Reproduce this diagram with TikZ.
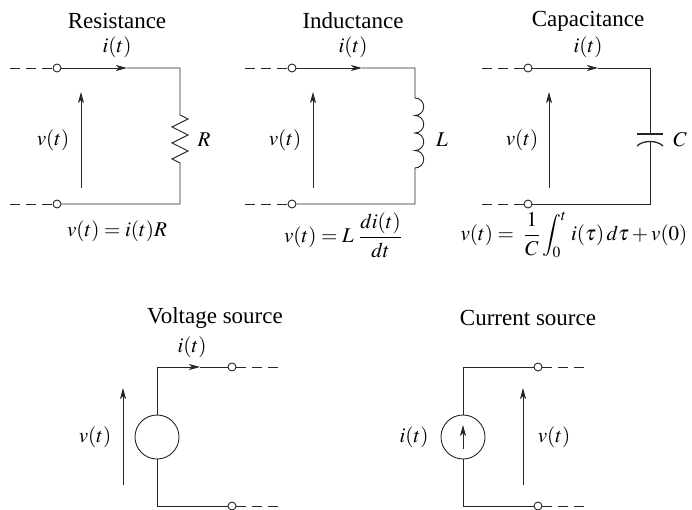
\documentclass[tikz,border=0pt]{standalone}
\usepackage{amsmath}
\usepackage{mathptmx}
\usepackage{fontspec}
\setmainfont{Liberation Serif}
\usetikzlibrary{arrows.meta}
\tikzset{
  wire/.style={line width=0.9pt,black!85},
  lead/.style={wire,dash pattern=on 10pt off 6pt},
  term/.style={circle,draw,wire,fill=white,inner sep=0pt,minimum size=8pt},
  vsrc/.style={circle,draw,wire,inner sep=0pt,minimum size=44pt},
  tip/.style={-{Stealth[length=11pt,width=6pt,inset=3pt]}},
  title/.style={font=\fontsize{23}{26}\selectfont}
}
\begin{document}
\begin{tikzpicture}[x=1pt,y=-1pt,font=\fontsize{21}{24}\selectfont]
  \useasboundingbox (0,0) rectangle (692,510);
  % resistance
  \node[title] at (117,21) {Resistance};
  \node (iR) at (117,47) {$i(t)$};
  \node[term] (rA) at (57,68) {};
  \node[term] (rB) at (57,204) {};
  \coordinate (rA0) at (10,68);
  \coordinate (rB0) at (10,204);
  \coordinate (rAr) at (127,68);
  \coordinate (rC) at (180,68);
  \coordinate (rD) at (180,204);
  \coordinate (rT) at (180,115);
  \coordinate (rU) at (180,163);
  \draw[lead] (rA0) -- (rA);
  \draw[lead] (rB0) -- (rB);
  \draw[wire,tip] (rA) -- (rAr);
  \draw[wire] (rAr) -- (rC) -- (rT) -- ++(8,4) -- ++(-16,8) -- ++(16,8) -- ++(-16,8)
    -- ++(16,8) -- ++(-16,8) -- (rU) -- (rD) -- (rB);
  \node (R) at (204,140) {$R$};
  \coordinate (rv0) at (81,188);
  \coordinate (rv1) at (81,92);
  \draw[wire,tip] (rv0) -- (rv1);
  \node (vR) at (53,140) {$v(t)$};
  \node (eqR) at (117,231) {$v(t) = i(t)R$};
  % inductance
  \node[title] at (353,21) {Inductance};
  \node (iL) at (353,47) {$i(t)$};
  \node[term] (lA) at (292,68) {};
  \node[term] (lB) at (292,204) {};
  \coordinate (lA0) at (245,68);
  \coordinate (lB0) at (245,204);
  \coordinate (lAr) at (362,68);
  \coordinate (lC) at (415,68);
  \coordinate (lD) at (415,204);
  \coordinate (lT) at (415,98);
  \coordinate (lU) at (415,168);
  \draw[lead] (lA0) -- (lA);
  \draw[lead] (lB0) -- (lB);
  \draw[wire,tip] (lA) -- (lAr);
  \draw[wire] (lAr) -- (lC) -- (lT)
    \foreach \k in {1,...,4} { arc[start angle=-90,end angle=90,radius=8.75] }
    -- (lU) -- (lD) -- (lB);
  \node (L) at (442,140) {$L$};
  \coordinate (lv0) at (313,188);
  \coordinate (lv1) at (313,92);
  \draw[wire,tip] (lv0) -- (lv1);
  \node (vL) at (285,140) {$v(t)$};
  \node (eqL) at (343,235) {$v(t) = L\ \dfrac{di(t)}{dt}$};
  % capacitance
  \node[title] at (588,21) {Capacitance};
  \node (iC) at (588,47) {$i(t)$};
  \node[term] (cA) at (528,68) {};
  \node[term] (cB) at (528,204) {};
  \coordinate (cA0) at (482,68);
  \coordinate (cB0) at (482,204);
  \coordinate (cAr) at (598,68);
  \coordinate (cC) at (650,68);
  \coordinate (cD) at (650,204);
  \coordinate (cT) at (650,134);
  \coordinate (cU) at (650,142);
  \draw[lead] (cA0) -- (cA);
  \draw[lead] (cB0) -- (cB);
  \draw[wire,tip] (cA) -- (cAr);
  \draw[wire] (cAr) -- (cC) -- (cT);
  \draw[wire] (cU) -- (cD) -- (cB);
  \draw[wire,line width=1.3pt] (637,134) -- (663,134);
  \draw[wire,line width=1.3pt] (637,146) .. controls (643,140) and (657,140) .. (663,146);
  \node (C) at (680,140) {$C$};
  \coordinate (cv0) at (549,188);
  \coordinate (cv1) at (549,92);
  \draw[wire,tip] (cv0) -- (cv1);
  \node (vC) at (522,140) {$v(t)$};
  \node (eqC) at (574,235) {$v(t) =\ \dfrac{1}{C}\displaystyle\int_0^t\, i(\tau)\,d\tau + v(0)$};
  % voltage source
  \node[title] at (215,318) {Voltage source};
  \node (iV) at (192,347) {$i(t)$};
  \node[vsrc] (V) at (157,437) {};
  \node[term] (vA) at (232,367) {};
  \node[term] (vB) at (232,506) {};
  \coordinate (vA0) at (280,367);
  \coordinate (vB0) at (280,506);
  \coordinate (vC1) at (157,367);
  \coordinate (vD1) at (157,506);
  \coordinate (vAr) at (200,367);
  \draw[wire,tip] (V) -- (vC1) -- (vAr);
  \draw[wire] (vAr) -- (vA);
  \draw[wire] (V) -- (vD1) -- (vB);
  \draw[lead] (vA) -- (vA0);
  \draw[lead] (vB) -- (vB0);
  \coordinate (vv0) at (123,485);
  \coordinate (vv1) at (123,388);
  \draw[wire,tip] (vv0) -- (vv1);
  \node (vV) at (95,437) {$v(t)$};
  % current source
  \node[title] at (528,318) {Current source};
  \node[vsrc] (I) at (463,437) {};
  \node[term] (iA) at (538,367) {};
  \node[term] (iB) at (538,506) {};
  \coordinate (iA0) at (586,367);
  \coordinate (iB0) at (586,506);
  \coordinate (iC1) at (463,367);
  \coordinate (iD1) at (463,506);
  \draw[wire] (I) -- (iC1) -- (iA);
  \draw[wire] (I) -- (iD1) -- (iB);
  \draw[lead] (iA) -- (iA0);
  \draw[lead] (iB) -- (iB0);
  \coordinate (ii0) at (463,449);
  \coordinate (ii1) at (463,425);
  \draw[wire,tip] (ii0) -- (ii1);
  \node (iI) at (414,437) {$i(t)$};
  \coordinate (iv0) at (523,485);
  \coordinate (iv1) at (523,388);
  \draw[wire,tip] (iv0) -- (iv1);
  \node (vI) at (554,437) {$v(t)$};
\end{tikzpicture}
\end{document}
